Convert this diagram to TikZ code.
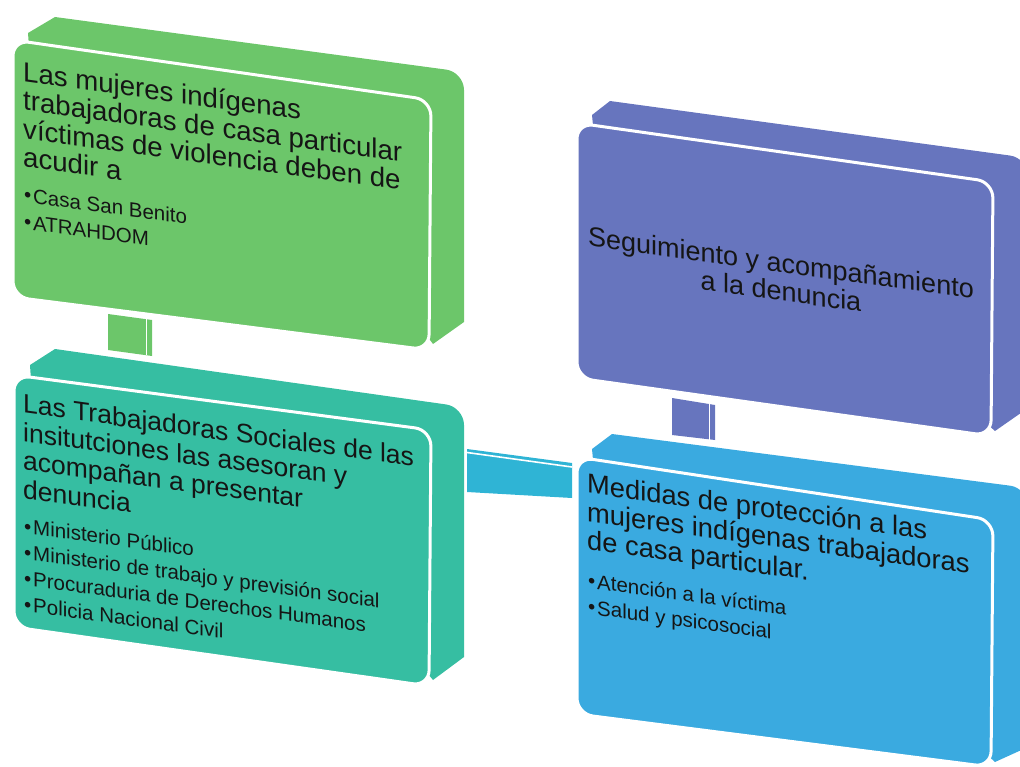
\documentclass[tikz,border=0pt]{standalone}
\usepackage{fontspec}
\setmainfont{Liberation Sans}
\definecolor{cgreen}{HTML}{6CC66A}
\definecolor{cteal}{HTML}{36BEA2}
\definecolor{cpurple}{HTML}{6775BE}
\definecolor{cblue}{HTML}{3AAAE0}
\definecolor{ccyan}{HTML}{2FB4D5}
\definecolor{ctext}{HTML}{151515}
\newcommand\mybul{\makebox[10pt][l]{\hspace{1pt}•}}
\newcommand\normsp{\spaceskip=0pt\xspaceskip=0pt\relax}
\tikzset{
  face/.style={draw=white, line width=3pt, rounded corners=16pt},
  sepline/.style={white, line width=1.6pt},
  txt/.style={inner sep=0pt, anchor=north west, transform shape, text width=440pt,
    align=left, text=ctext, font=\fontsize{27.3}{28.4}\selectfont},
  ctxt/.style={inner sep=0pt, anchor=north, transform shape, align=center,
    text=ctext, font=\fontsize{27}{28.6}\selectfont}
}
\begin{document}
\begin{tikzpicture}[x=1pt,y=-1pt]
\useasboundingbox (0,0) rectangle (1020,767);
\clip (0,0) rectangle (1020,767);

% ---------- connectors ----------
\coordinate (c1tl) at (108,314); \coordinate (c1tr) at (152,320);
\coordinate (c1br) at (152,356); \coordinate (c1bl) at (108,350);
\fill[cgreen] (c1tl) -- (c1tr) -- (c1br) -- (c1bl) -- cycle;
\draw[sepline] (146.5,315) -- (146.5,355);

\coordinate (c2tl) at (467,449); \coordinate (c2tr) at (572,463);
\coordinate (c2br) at (572,498); \coordinate (c2bl) at (467,492);
\fill[ccyan] (c2tl) -- (c2tr) -- (c2br) -- (c2bl) -- cycle;
\draw[sepline] (467,452.5) -- (572,467);

\coordinate (c3tl) at (672,398); \coordinate (c3tr) at (715,405);
\coordinate (c3br) at (715,440); \coordinate (c3bl) at (672,435);
\fill[cpurple] (c3tl) -- (c3tr) -- (c3br) -- (c3bl) -- cycle;
\draw[sepline] (709.5,399) -- (709.5,440);

% ---------- green box ----------
\fill[cgreen] (28,33) -- (55,17) [rounded corners=18pt]-- (464,72) [sharp corners]-- (464,322)
  -- (433,344) -- (400,300) -- (40,200) -- cycle;
\draw[face, fill=cgreen] (13,40) -- (431,100) -- (429,350) -- (13,297) -- cycle;

% ---------- teal box ----------
\fill[cteal] (30,365) -- (55,349) [rounded corners=18pt]-- (464,407) [sharp corners]-- (464,657)
  -- (433,680) -- (400,640) -- (40,520) -- cycle;
\draw[face, fill=cteal] (14,375) -- (431,430) -- (429,686) -- (14,627) -- cycle;

% ---------- purple box ----------
\fill[cpurple] (592,115) -- (610,101) [rounded corners=18pt]-- (1028,158) [sharp corners]-- (1028,408)
  -- (995,431) -- (960,400) -- (610,300) -- cycle;
\draw[face, fill=cpurple] (577,123) -- (993,182) -- (991,436) -- (577,378) -- cycle;

% ---------- blue box ----------
\fill[cblue] (592,449) -- (612,434) [rounded corners=18pt]-- (1028,488) [sharp corners]-- (1028,747)
  -- (995,762) -- (960,730) -- (610,640) -- cycle;
\draw[face, fill=cblue] (577,457) -- (993,520) -- (991,767) -- (577,714) -- cycle;

% ---------- texts ----------
\begin{scope}[shift={(23,61)}, yslant=-0.137]
\node[txt, font=\fontsize{27.6}{28.4}\selectfont] (t1) at (0,0) {\normsp\rule{0pt}{20pt}Las mujeres indígenas\\trabajadoras de casa particular\\víctimas de violencia deben de\\acudir a\par
\vspace{8pt}{\fontsize{20.5}{27}\selectfont\normsp \mybul Casa San Benito\\\mybul ATRAHDOM\par}};
\end{scope}

\begin{scope}[shift={(23,392.6)}, yslant=-0.137]
\node[txt, font=\fontsize{26.5}{28.4}\selectfont] (t2) at (0,0) {\normsp\rule{0pt}{20pt}Las Trabajadoras Sociales de las\\insitutciones las asesoran y\\acompañan a presentar\\denuncia\par
\vspace{9pt}{\fontsize{20.5}{26}\selectfont\normsp \mybul Ministerio Público\\\mybul Ministerio de trabajo y previsión social\\\mybul Procuraduria de Derechos Humanos\\\mybul Policia Nacional Civil\par}};
\end{scope}

\begin{scope}[shift={(781,252)}, yslant=-0.137]
\node[ctxt] (t3) at (0,0) {\normsp\rule{0pt}{20pt}Seguimiento y acompañamiento\\a la denuncia};
\end{scope}

\begin{scope}[shift={(587,472.6)}, yslant=-0.137]
\node[txt] (t4) at (0,0) {\normsp\rule{0pt}{20pt}Medidas de protección a las\\mujeres indígenas trabajadoras\\de casa particular.\par
\vspace{12pt}{\fontsize{20.5}{26}\selectfont\normsp \mybul Atención a la víctima\\\mybul Salud y psicosocial\par}};
\end{scope}
\end{tikzpicture}
\end{document}
